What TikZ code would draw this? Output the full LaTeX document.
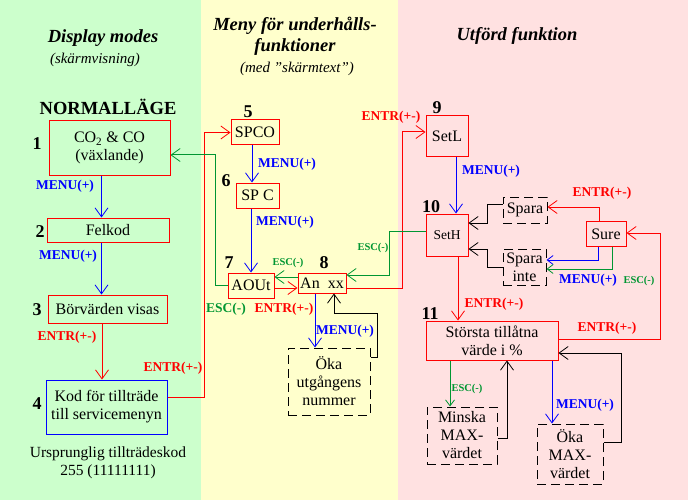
\documentclass[tikz,border=0pt]{standalone}
\usepackage{fontspec}
\setmainfont{Liberation Serif}
\usetikzlibrary{arrows.meta}
\definecolor{bggreen}{RGB}{204,255,204}
\definecolor{bgyellow}{RGB}{255,255,204}
\definecolor{bgpink}{RGB}{255,225,225}
\definecolor{dgreen}{RGB}{0,150,50}
\definecolor{pblue}{RGB}{0,0,255}
\definecolor{pred}{RGB}{255,0,0}
\tikzset{
  arr/.style={-{Straight Barb[length=9pt,width=13pt,line width=0.8pt]}, line width=1pt},
  sarr/.style={-{Straight Barb[length=6pt,width=9pt,line width=0.8pt]}, line width=1pt},
  box/.style={draw, line width=1pt, inner sep=0pt, font=\fontsize{16}{18}\selectfont, align=center},
  rbox/.style={box, draw=pred},
  bbox/.style={box, draw=pblue},
  dbox/.style={box, draw=black, dash pattern=on 9pt off 5pt},
  title/.style={font=\fontsize{18.5}{21}\selectfont\bfseries\itshape, align=center},
  sub/.style={font=\fontsize{15}{17}\selectfont\itshape},
  num/.style={font=\fontsize{18}{20}\selectfont\bfseries},
  lab/.style={font=\fontsize{13.5}{15}\selectfont\bfseries, inner sep=0pt},
  slab/.style={font=\fontsize{10.5}{12}\selectfont\bfseries, inner sep=0pt},
}
\begin{document}
\begin{tikzpicture}[x=1pt,y=-1pt]
\useasboundingbox (0,0) rectangle (688,500);
\fill[bggreen] (0,0) rectangle (201,500);
\fill[bgyellow] (201,0) rectangle (398,500);
\fill[bgpink] (398,0) rectangle (688,500);

% titles
\node[title] (t1) at (103,38) {Display modes};
\node[sub] (t1s) at (95,60) {(skärmvisning)};
\node[title] (t2) at (295,36) {Meny för underhålls-\\funktioner};
\node[sub] (t2s) at (297,69) {(med ”skärmtext”)};
\node[title] (t3) at (517,36) {Utförd funktion};
\node[font=\fontsize{18.5}{20}\selectfont\bfseries] (nl) at (108,107) {NORMALLÄGE};

% left column
\node[rbox, minimum width=121pt, minimum height=54pt] (b1) at (109.5,148) {CO\textsubscript{2} \& CO\\(växlande)};
\node[rbox, minimum width=122pt, minimum height=24pt] (b2) at (108,230) {Felkod};
\node[rbox, minimum width=119pt, minimum height=28pt] (b3) at (107.5,309) {Börvärden visas};
\node[bbox, minimum width=121pt, minimum height=54pt] (b4) at (106.5,407) {Kod för tillträde\\till servicemenyn};
\node[num] (n1) at (37,144) {1};
\node[num] (n2) at (40,232) {2};
\node[num] (n3) at (37,310) {3};
\node[num] (n4) at (37,404) {4};
\node[font=\fontsize{15.5}{18}\selectfont, align=center] (orig) at (108,463) {Ursprunglig tillträdeskod\\255 (11111111)};

% middle column
\node[rbox, minimum width=48pt, minimum height=25pt] (spco) at (255,132.5) {SPCO};
\node[rbox, minimum width=43pt, minimum height=25pt] (spc) at (257.5,195.5) {SP C};
\node[rbox, minimum width=46pt, minimum height=25pt] (aout) at (251,285.5) {AOUt};
\node[rbox, minimum width=48pt, minimum height=20pt] (anxx) at (322,283) {An\ \ xx};
\node[dbox, minimum width=82pt, minimum height=67pt] (oka1) at (329,381.5) {Öka\\utgångens\\nummer};
\node[num] (n5) at (248,112) {5};
\node[num] (n6) at (226,181) {6};
\node[num] (n7) at (229,263) {7};
\node[num] (n8) at (324,263) {8};

% right column
\node[rbox, minimum width=42pt, minimum height=41pt] (setl) at (447,136.5) {SetL};
\node[rbox, minimum width=42pt, minimum height=42pt, font=\fontsize{13.5}{15}\selectfont] (seth) at (447,235) {SetH};
\node[dbox, minimum width=44pt, minimum height=26pt] (spara) at (525,210) {Spara};
\node[dbox, minimum width=43pt, minimum height=36pt] (sparainte) at (524.5,267) {Spara\\inte};
\node[rbox, minimum width=40pt, minimum height=25pt] (sure) at (606,234) {Sure};
\node[rbox, minimum width=132pt, minimum height=39pt] (storsta) at (492,340.5) {Största tillåtna\\värde i \%};
\node[dbox, minimum width=70pt, minimum height=57pt] (minska) at (462,435.5) {Minska\\MAX-\\värdet};
\node[dbox, minimum width=66pt, minimum height=60pt] (oka2) at (570,454) {Öka\\MAX-\\värdet};
\node[num] (n9) at (437,108) {9};
\node[num] (n10) at (431,207) {10};
\node[num] (n11) at (430,314) {11};

% connectors left
\draw[pblue, arr] (b1.south -| 101.5,0) -- (b2.north -| 101.5,0);
\draw[pblue, arr] (b2.south -| 101.5,0) -- (b3.north -| 101.5,0);
\draw[pred, arr] (b3.south -| 102,0) -- (b4.north -| 102,0);
\draw[pred, arr] (b4.east |- 0,397) -- ++(37,0) |- (spco.west);
\node[lab, pblue] (l1) at (65,186) {MENU(+)};
\node[lab, pblue] (l2) at (68,256) {MENU(+)};
\node[lab, pred] (l3) at (67,337) {ENTR(+-)};
\node[lab, pred] (l4) at (173,368) {ENTR(+-)};

% connectors middle
\draw[pblue, arr] (spco.south -| 252,0) -- (spc.north -| 252,0);
\draw[pblue, arr] (spc.south -| 251,0) -- (aout.north -| 251,0);
\draw[dgreen, arr] (aout.west |- 0,285) -- ++(-12,0) |- (b1.east |- 0,155);
\draw[dgreen, arr] (anxx.west |- 0,277) -- (aout.east |- 0,277);
\draw[pred, arr] (aout.east |- 0,288) -- (anxx.west |- 0,288);
\draw[pblue, arr] (anxx.south -| 315,0) -- (oka1.north -| 315,0);
\draw[black, arr] (oka1.east |- 0,357) -| (377,313) -| (anxx.south -| 334,0);
\draw[pred, arr] (anxx.east |- 0,288) -- ++(56,0) |- (setl.west |- 0,132);
\draw[dgreen, arr] (seth.west |- 0,231) -- ++(-36,0) |- (anxx.east |- 0,275);
\node[lab, pblue] (l5) at (287,164) {MENU(+)};
\node[lab, pblue] (l6) at (285,222) {MENU(+)};
\node[slab, dgreen] (l7) at (288,263) {ESC(-)};
\node[lab, dgreen] (l8) at (226,309) {ESC(-)};
\node[lab, pred] (l9) at (284,309) {ENTR(+-)};
\node[lab, pblue] (l10) at (345,331) {MENU(+)};
\node[lab, pred] (l11) at (391,117) {ENTR(+-)};
\node[slab, dgreen] (l12) at (373,248) {ESC(-)};

% connectors right
\draw[pblue, arr] (setl.south -| 456,0) -- (seth.north -| 456,0);
\draw[black, arr] (spara.west |- 0,204) -- ++(-15,0) |- (seth.east |- 0,223);
\draw[black, arr] (sparainte.west |- 0,267) -- ++(-15,0) |- (seth.east |- 0,249);
\draw[pred, arr] (sure.north -| 599,0) |- (spara.east |- 0,207);
\draw[pblue, sarr] (sure.south -| 598,0) |- (sparainte.east |- 0,260);
\draw[dgreen, sarr] (sure.south -| 612,0) |- (sparainte.east |- 0,269);
\draw[pred, arr] (storsta.east |- 0,339) -- ++(102,0) |- (sure.east |- 0,233);
\draw[pred, arr] (seth.south -| 458,0) -- (storsta.north -| 458,0);
\draw[dgreen, sarr] (storsta.south -| 450,0) -- (minska.north -| 450,0);
\draw[black, arr] (minska.east |- 0,438) -| (storsta.south -| 507,0);
\draw[pblue, arr] (storsta.south -| 552,0) -- (oka2.north -| 552,0);
\draw[black, arr] (oka2.east |- 0,442) -- ++(18,0) |- (storsta.east |- 0,353);
\node[lab, pblue] (l13) at (491,171) {MENU(+)};
\node[lab, pred] (l14) at (602,193) {ENTR(+-)};
\node[lab, pblue] (l15) at (588,280) {MENU(+)};
\node[slab, dgreen] (l16) at (639,281) {ESC(-)};
\node[lab, pred] (l17) at (607,328) {ENTR(+-)};
\node[lab, pred] (l18) at (494,304) {ENTR(+-)};
\node[slab, dgreen] (l19) at (467,389) {ESC(-)};
\node[lab, pblue] (l20) at (585,405) {MENU(+)};
\end{tikzpicture}
\end{document}
